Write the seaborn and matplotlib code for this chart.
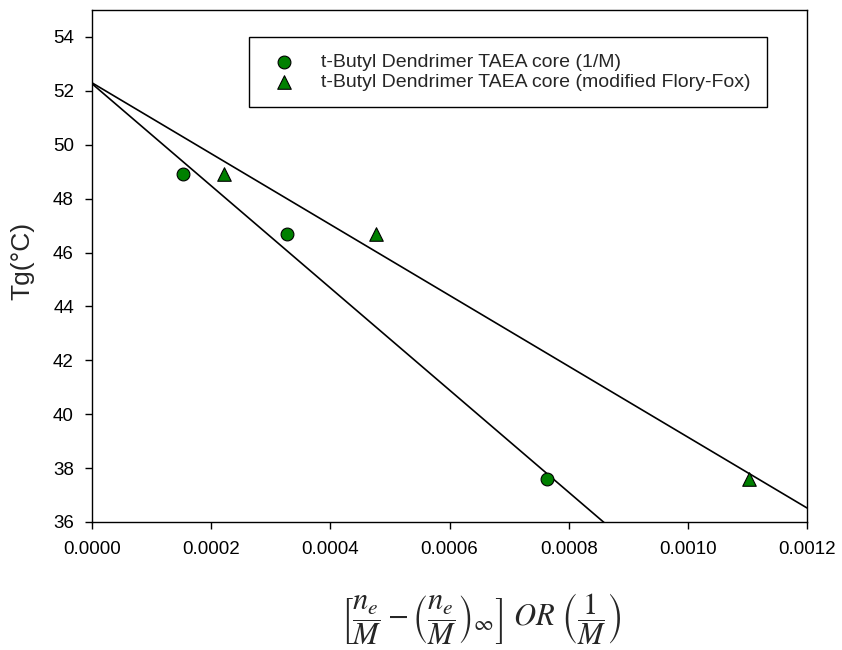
import numpy as np
import pandas as pd
import matplotlib
matplotlib.use("Agg")
import matplotlib.pyplot as plt
import seaborn as sns

# Tg of t-butyl dendrimers (TAEA core) against the two molecular-weight variables
x_inv_m = [0.000153, 0.000328, 0.000764]          # 1/M
tg_inv_m = [48.9, 46.7, 37.6]
x_flory = [0.000222, 0.000477, 0.001103]          # modified Flory-Fox variable
tg_flory = [48.9, 46.7, 37.6]

label_inv_m = "t-Butyl Dendrimer TAEA core (1/M)"
label_flory = "t-Butyl Dendrimer TAEA core (modified Flory-Fox)"

x_ticks = [0.0, 0.0002, 0.0004, 0.0006, 0.0008, 0.0010, 0.0012]
y_ticks = [36, 38, 40, 42, 44, 46, 48, 50, 52, 54]

sns.set_style("ticks")
plt.rcParams["font.family"] = ["Liberation Sans", "DejaVu Sans"]
plt.rcParams["mathtext.fontset"] = "stix"

df_a = pd.DataFrame({"x": x_inv_m, "tg": tg_inv_m})
df_b = pd.DataFrame({"x": x_flory, "tg": tg_flory})

fig = plt.figure(figsize=(8.42, 6.5), dpi=100)
ax = fig.add_axes([0.1093, 0.197, 0.8491, 0.7876])
ax.set_xlim(0, 0.0012)
ax.set_ylim(36, 55)

# least-squares fits, extended over the full x range
line_kws = dict(color="black", lw=1.2, zorder=2)
sns.regplot(data=df_a, x="x", y="tg", ax=ax, scatter=False, ci=None,
            truncate=False, line_kws=line_kws)
sns.regplot(data=df_b, x="x", y="tg", ax=ax, scatter=False, ci=None,
            truncate=False, line_kws=line_kws)

sns.scatterplot(data=df_a, x="x", y="tg", ax=ax, marker="o", s=85,
                color="green", edgecolor="black", linewidth=0.8,
                label=label_inv_m, zorder=3)
sns.scatterplot(data=df_b, x="x", y="tg", ax=ax, marker="^", s=95,
                color="green", edgecolor="black", linewidth=0.8,
                label=label_flory, zorder=3)

ax.set_xlim(0, 0.0012)
ax.set_ylim(36, 55)
ax.set_xticks(x_ticks)
ax.set_xticklabels([f"{v:.4f}" for v in x_ticks])
ax.set_yticks(y_ticks)
ax.set_yticklabels([str(v) for v in y_ticks])
ax.tick_params(direction="out", length=5, width=1, labelsize=13.5,
               colors="black")
ax.tick_params(axis="x", pad=9)
ax.tick_params(axis="y", pad=8)
for s in ax.spines.values():
    s.set_linewidth(1.0)
    s.set_color("black")
    s.set_visible(True)

ax.set_ylabel("Tg(\u00b0C)", fontsize=19)
ax.yaxis.label.set_va("center")
ax.yaxis.set_label_coords(-0.097, 0.51)
ax.set_xlabel(r"$\left[\dfrac{n_e}{M}-\left(\dfrac{n_e}{M}\right)_{\infty}\right]\ OR\ \left(\dfrac{1}{M}\right)$",
              fontsize=22)
ax.xaxis.set_label_coords(0.544, -0.19)
ax.xaxis.label.set_va("center")

leg = ax.legend(loc="upper left", bbox_to_anchor=(0.2196, 0.947),
                borderaxespad=0, fontsize=14, frameon=True, fancybox=False,
                edgecolor="black", framealpha=1, handletextpad=0.9,
                borderpad=0.82, labelspacing=0.15)
leg.get_frame().set_linewidth(1.0)

fig.savefig("out.png", dpi=100)
